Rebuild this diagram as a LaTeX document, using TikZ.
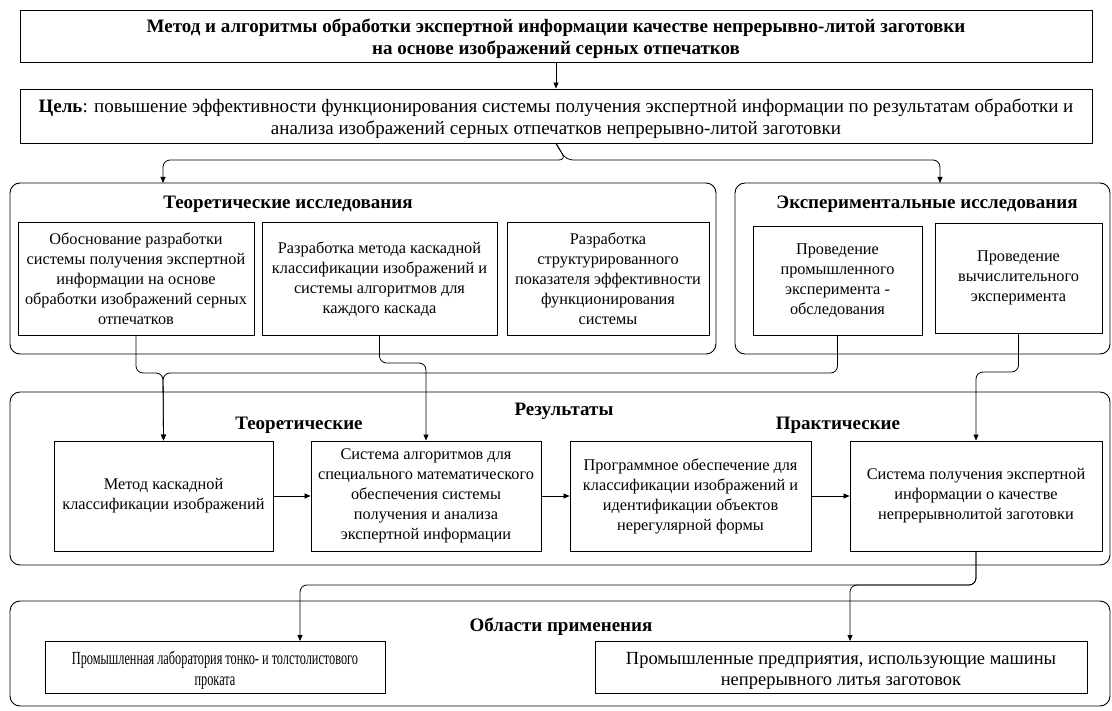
\documentclass[tikz,border=0pt]{standalone}
\usepackage{fontspec}
\setmainfont{Liberation Serif}
\newfontfamily\narrowserif[FakeStretch=0.665]{Liberation Serif}
\usetikzlibrary{arrows.meta,calc}
\newcommand{\topstrut}{\rule{0pt}{20pt}}
\begin{document}
\begin{tikzpicture}[x=1pt,y=-1pt,
  box/.style={draw=black,line width=0.9pt,align=center,inner sep=2pt,font=\fontsize{16.3}{20}\selectfont},
  grp/.style={draw=black,line width=0.9pt,rounded corners=10pt,inner sep=0pt},
  gtitle/.style={font=\fontsize{19}{22}\selectfont\bfseries,inner sep=0pt},
  conn/.style={line width=0.8pt,rounded corners=7pt},
  arr/.style={conn,-{Triangle[length=6pt,width=5pt]}}]
\useasboundingbox (0,0) rectangle (1112,711);
% top
\node[box,minimum width=1072pt,minimum height=52pt,font=\fontsize{19}{22}\selectfont\bfseries] (title) at (556,36)
  {\topstrut Метод и алгоритмы обработки экспертной информации качестве непрерывно-литой заготовки\\на основе изображений серных отпечатков};
\node[box,minimum width=1072pt,minimum height=54pt,font=\fontsize{19}{22}\selectfont] (goal) at (556,116)
  {\topstrut\textbf{Цель}: повышение эффективности функционирования системы получения экспертной информации по результатам обработки и\\анализа изображений серных отпечатков непрерывно-литой заготовки};
% groups
\node[grp,minimum width=706pt,minimum height=171pt] (theo) at (363,268.5) {};
\node[gtitle] (theoT) at (288,204) {Теоретические исследования};
\node[grp,minimum width=375pt,minimum height=171pt] (exp) at (922.5,268.5) {};
\node[gtitle] (expT) at (927,204) {Экспериментальные исследования};
\node[box,minimum width=236pt,minimum height=113pt] (t1) at (136,279)
  {Обоснование разработки\\системы получения экспертной\\информации на основе\\обработки изображений серных\\отпечатков};
\node[box,minimum width=235pt,minimum height=113pt] (t2) at (379.5,279)
  {Разработка метода каскадной\\классификации изображений и\\системы алгоритмов для\\каждого каскада};
\node[box,minimum width=202pt,minimum height=113pt] (t3) at (608,279)
  {Разработка\\структурированного\\показателя эффективности\\функционирования\\системы};
\node[box,minimum width=169pt,minimum height=109pt] (e1) at (837.5,280.5)
  {Проведение\\промышленного\\эксперимента -\\обследования};
\node[box,minimum width=167pt,minimum height=110pt] (e2) at (1018.5,278)
  {Проведение\\вычислительного\\эксперимента};
% results
\node[grp,minimum width=1100pt,minimum height=173pt] (res) at (560,478.5) {};
\node[gtitle] (resT) at (564,411) {Результаты};
\node[gtitle] (resT1) at (299,425) {Теоретические};
\node[gtitle] (resT2) at (838,425) {Практические};
\node[box,minimum width=219pt,minimum height=110pt] (r1) at (163.5,496)
  {Метод каскадной\\классификации изображений};
\node[box,minimum width=230pt,minimum height=110pt] (r2) at (426,496)
  {Система алгоритмов для\\специального математического\\обеспечения системы\\получения и анализа\\экспертной информации};
\node[box,minimum width=241pt,minimum height=110pt] (r3) at (690.5,496)
  {Программное обеспечение для\\классификации изображений и\\идентификации объектов\\нерегулярной формы};
\node[box,minimum width=252pt,minimum height=110pt] (r4) at (976,496)
  {Система получения экспертной\\информации о качестве\\непрерывнолитой заготовки};
% application
\node[grp,minimum width=1100pt,minimum height=105pt] (app) at (560,653.5) {};
\node[gtitle] (appT) at (561,627) {Области применения};
\node[box,minimum width=340pt,minimum height=52pt,font=\fontsize{18.5}{21}\narrowserif] (b1) at (215,667)
  {\topstrut Промышленная лаборатория тонко- и толстолистового\\проката};
\node[box,minimum width=492pt,minimum height=52pt,font=\fontsize{18.5}{21}\selectfont] (b2) at (841,667)
  {\topstrut Промышленные предприятия, использующие машины\\непрерывного литья заготовок};
% coordinates
\coordinate (gsplit) at (566,160);
\coordinate (theoIn) at (163,183);
\coordinate (expIn) at (940,183);
\coordinate (b1In) at (300,641);
\coordinate (b2In) at (850,641);
% connectors
\draw[arr] (title.south) -- (goal.north);
\draw[arr] (goal.south) -- (gsplit) -| (theoIn);
\draw[arr] (goal.south) -- (gsplit) -| (expIn);
\draw[arr] (t1.south) |- (163,373) -- (r1.north);
\draw[arr] (e1.south) |- (163,373) -- (r1.north);
\draw[arr] (t2.south) |- (426,363) -- (r2.north);
\draw[arr] (e2.south) |- (976,372) -- (r4.north);
\draw[arr] (r1) -- (r2);
\draw[arr] (r2) -- (r3);
\draw[arr] (r3) -- (r4);
\draw[arr] (r4.south) |- (300,585) -- (b1In);
\draw[arr] (r4.south) |- (850,585) -- (b2In);
\end{tikzpicture}
\end{document}
